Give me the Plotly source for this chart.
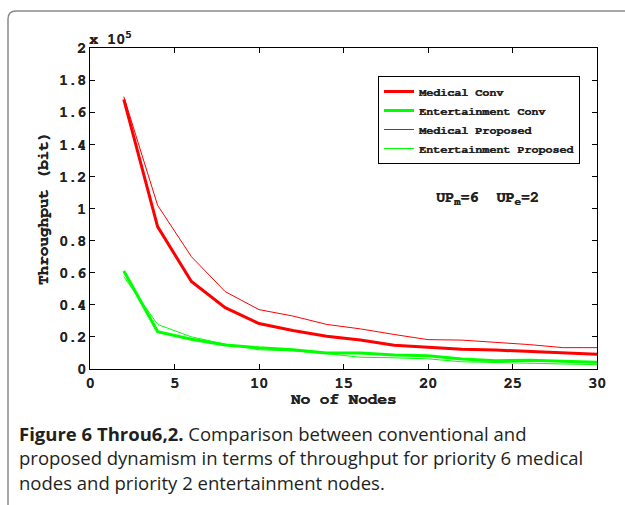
import plotly.graph_objects as go

# ---- data (throughput in units of 1e5 bit) ----
nodes = [2, 4, 6, 8, 10, 12, 14, 16, 18, 20, 22, 24, 26, 28, 30]
medical_conv = [1.68, 0.887, 0.545, 0.382, 0.283, 0.24, 0.204, 0.18, 0.148, 0.135, 0.123, 0.118, 0.11, 0.10, 0.092]
entertain_conv = [0.61, 0.233, 0.185, 0.15, 0.132, 0.12, 0.10, 0.10, 0.088, 0.083, 0.063, 0.052, 0.054, 0.046, 0.042]
medical_prop = [1.697, 1.02, 0.70, 0.482, 0.37, 0.33, 0.278, 0.25, 0.215, 0.183, 0.18, 0.167, 0.152, 0.133, 0.133]
entertain_prop = [0.575, 0.278, 0.20, 0.155, 0.12, 0.113, 0.096, 0.073, 0.07, 0.063, 0.045, 0.04, 0.037, 0.033, 0.027]

x_ticks = [0, 5, 10, 15, 20, 25, 30]
y_ticks = [0, 0.2, 0.4, 0.6, 0.8, 1, 1.2, 1.4, 1.6, 1.8, 2]
y_ticktext = ["0", "0.2", "0.4", "0.6", "0.8", "1", "1.2", "1.4", "1.6", "1.8", "2"]

W, H = 625, 505
L, R, T, B = 90, 28, 48, 136
PW, PH = W - L - R, H - T - B
MONO = "FreeMono, Liberation Mono, monospace"
SHADOW = "0.6px 0px 0px #222"


def px(xp):
    return (xp - L) / PW


def py(yp):
    return (H - B - yp) / PH


def mfont(size):
    return dict(family=MONO, size=size, color="#222", weight="bold", shadow=SHADOW)


fig = go.Figure()
fig.add_trace(go.Scatter(x=nodes, y=medical_conv, mode="lines", name="Medical Conv",
                         line=dict(color="#ff0000", width=3)))
fig.add_trace(go.Scatter(x=nodes, y=entertain_conv, mode="lines", name="Entertainment Conv",
                         line=dict(color="#00ff00", width=3)))
fig.add_trace(go.Scatter(x=nodes, y=medical_prop, mode="lines", name="Medical Proposed",
                         line=dict(color="#ff0000", width=1)))
fig.add_trace(go.Scatter(x=nodes, y=entertain_prop, mode="lines", name="Entertainment Proposed",
                         line=dict(color="#00ff00", width=1)))

axis_common = dict(showgrid=False, zeroline=False, showline=True, linecolor="black",
                   linewidth=1, mirror="ticks", ticks="inside", ticklen=5,
                   tickcolor="black", tickfont=mfont(15))

fig.update_xaxes(range=[0, 30], tickvals=x_ticks, ticktext=[str(v) for v in x_ticks],
                 **axis_common,
                 title=dict(text="No of Nodes", font=mfont(16), standoff=0))
fig.update_yaxes(range=[0, 2], tickvals=y_ticks, ticktext=y_ticktext,
                 **axis_common,
                 title=dict(text="Throughput (bit)", font=mfont(16), standoff=6))

fig.update_layout(
    width=W, height=H,
    margin=dict(l=L, r=R, t=T, b=B),
    paper_bgcolor="white", plot_bgcolor="white",
    legend=dict(x=px(378), y=py(76), xanchor="left", yanchor="top",
                bgcolor="white", bordercolor="black", borderwidth=1,
                font=mfont(11.7),
                tracegroupgap=0, itemwidth=30),
)

# decorative frame (rounded top-left corner)
rx, ry = 8 / PW, 8 / PH
x0, y0 = px(8), py(11)
fig.add_shape(type="path", xref="paper", yref="paper",
              path=f"M {x0},{py(520)} L {x0},{y0 - ry} Q {x0},{y0} {x0 + rx},{y0} L {px(640)},{y0}",
              line=dict(color="#8a8a8a", width=1.5))

fig.add_annotation(xref="paper", yref="paper", x=px(87), y=py(38), xanchor="left", yanchor="middle",
                   text="x 10<sup>5</sup>", showarrow=False, font=mfont(15))

fig.add_annotation(xref="paper", yref="paper", x=px(487), y=py(198), xanchor="center", yanchor="middle",
                   text="UP<sub>m</sub>=6  UP<sub>e</sub>=2", showarrow=False, font=mfont(15))

CAP = "Open Sans"
caption_lines = [
    "<b>Figure 6 Throu6,2.</b> Comparison between conventional and",
    "proposed dynamism in terms of throughput for priority 6 medical",
    "nodes and priority 2 entertainment nodes.",
]
for i, line in enumerate(caption_lines):
    fig.add_annotation(xref="paper", yref="paper", x=px(17), y=py(433 + 24.5 * i),
                       xanchor="left", yanchor="middle", align="left",
                       text=line, showarrow=False,
                       font=dict(family=CAP, size=18.5, color="#231f20"))

fig.write_html("out.html")
